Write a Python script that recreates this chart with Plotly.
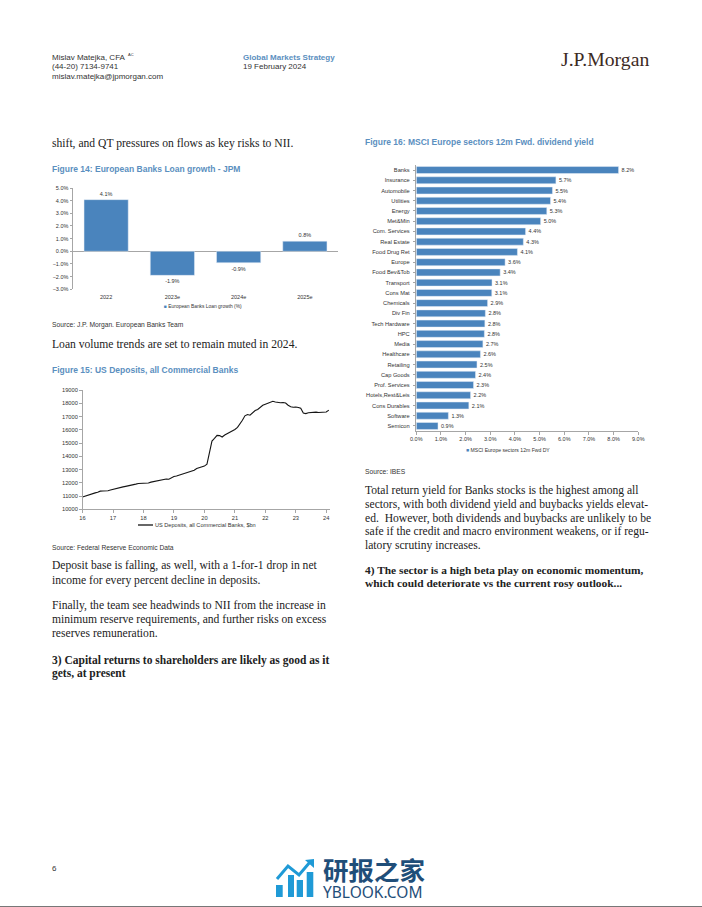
import plotly.graph_objects as go

W, H = 702, 907
BAR = "#4a84bd"
TITLE = "#5b8fc0"
AXIS = "#a6a6a6"
TXT = "#333333"
SANS = "Liberation Sans, Arial"
SERIF = "Liberation Serif, Times New Roman"

# Figure 14
loan_years = ["2022", "2023e", "2024e", "2025e"]
loan_growth = [4.08, -1.9, -0.9, 0.8]

# Figure 15 (monthly)
dep_dates = [f"{y}-{m:02d}-01" for y in range(2016, 2024) for m in range(1, 13)] + ["2024-01-01", "2024-02-01"]
dep_values = [
    10930, 11000, 11070, 11130, 11190, 11240, 11280, 11370, 11380, 11370, 11400, 11450,
    11510, 11560, 11610, 11660, 11690, 11730, 11760, 11790, 11850, 11900, 11950, 11960,
    11980, 11990, 11980, 12050, 12090, 12140, 12180, 12220, 12240, 12280, 12270, 12400,
    12470, 12510, 12570, 12630, 12680, 12760, 12800, 12840, 12950, 13080, 13150, 13200,
    13260, 13400, 14200, 15150, 15350, 15580, 15560, 15450, 15600, 15700, 15830, 15920,
    16020, 16180, 16420, 16720, 17050, 17150, 17100, 17300, 17450, 17530, 17700, 17850,
    17930, 18000, 18040, 18150, 18100, 18060, 18040, 18060, 18020, 17850, 17740, 17700,
    17720, 17680, 17620, 17260, 17220, 17290, 17310, 17340, 17330, 17300, 17320, 17310,
    17340, 17480,
]

# Figure 16
sectors = ["Banks", "Insurance", "Automobile", "Utilities", "Energy", "Met&Min", "Com. Services",
           "Real Estate", "Food Drug Ret", "Europe", "Food Bev&Tob", "Transport", "Cons Mat",
           "Chemicals", "Div Fin", "Tech Hardware", "HPC", "Media", "Healthcare", "Retailing",
           "Cap Goods", "Prof. Services", "Hotels,Rest&Leis", "Cons Durables", "Software", "Semicon"]
div_yield = [8.2, 5.66, 5.52, 5.44, 5.29, 5.04, 4.43, 4.34, 4.1, 3.6, 3.4, 3.07, 3.06,
             2.89, 2.8, 2.78, 2.76, 2.7, 2.6, 2.46, 2.4, 2.32, 2.2, 2.13, 1.3, 0.88]


def dx(a, b):
    return [a / W, b / W]


def dy(top, bottom):
    return [1 - bottom / H, 1 - top / H]


fig = go.Figure()
fig.add_trace(go.Bar(x=loan_years, y=loan_growth, marker_color=BAR, width=0.667, xaxis="x", yaxis="y",
                     texttemplate="%{y:.1f}%", textposition="outside", cliponaxis=False,
                     textfont=dict(size=5.5, color=TXT, family=SANS), showlegend=False))
fig.add_trace(go.Scatter(x=dep_dates, y=dep_values, mode="lines", line=dict(color="#151515", width=1.1),
                         xaxis="x2", yaxis="y2", showlegend=False, cliponaxis=False))
fig.add_trace(go.Bar(x=div_yield, y=sectors, orientation="h", marker_color=BAR, width=0.68, xaxis="x3", yaxis="y3",
                     texttemplate="%{x:.1f}%", textposition="outside", cliponaxis=False,
                     textfont=dict(size=5.5, color=TXT, family=SANS), showlegend=False))

tick = dict(size=5.5, color=TXT, family=SANS)
tick2 = dict(size=5.7, color=TXT, family=SANS)
common = dict(showgrid=False, zeroline=False, showline=True, linecolor=AXIS, linewidth=1,
              ticks="outside", ticklen=2.5, tickcolor=AXIS, tickwidth=1, tickfont=tick)
fig.update_layout(
    width=W, height=H, autosize=False, margin=dict(l=0, r=0, t=0, b=0, autoexpand=False),
    paper_bgcolor="white", plot_bgcolor="white", bargap=0.33,
    xaxis=dict(domain=dx(73, 338), anchor="y", showgrid=False, zeroline=False, showline=False,
               ticks="", tickfont=tick, ticklabelstandoff=3),
    yaxis=dict(domain=dy(188, 289.3), anchor="x", range=[-3, 5], dtick=1, tickformat=".1f", ticksuffix="%",
               showgrid=False, zeroline=True, zerolinecolor=AXIS, zerolinewidth=1, showline=True,
               linecolor=AXIS, ticks="outside", ticklen=2.5, tickcolor=AXIS, tickfont=tick),
    xaxis2=dict(domain=dx(82.5, 330), anchor="y2", type="date", range=["2016-01-01", "2024-02-15"],
                tickvals=[f"{y}-01-01" for y in range(2016, 2025)], tickformat="%y", **{**common, "tickfont": tick2}),
    yaxis2=dict(domain=dy(390, 509.3), anchor="x2", range=[10000, 19000], dtick=1000, tickformat="d",
                **{**common, "tickfont": tick2}),
    xaxis3=dict(domain=dx(416.3, 638.3), anchor="y3", range=[0, 9], dtick=1, tickformat=".1f", ticksuffix="%", **common),
    yaxis3=dict(domain=dy(164.9, 431.1), anchor="x3", autorange="reversed", ticklabelstandoff=2,
                **{**common, "tickfont": dict(size=5.7, color=TXT, family=SANS)}),
)


def text(x, y, s, size, color="#222222", family=SANS, bold=False, anchor="left"):
    fig.add_annotation(xref="paper", yref="paper", x=x / W, y=1 - y / H, text=f"<b>{s}</b>" if bold else s,
                       showarrow=False, xanchor=anchor, yanchor="middle", align="left",
                       font=dict(size=size, color=color, family=family), borderpad=0, borderwidth=0)


# Header and footer
text(52, 57, "Mislav Matejka, CFA", 8, TXT)
text(128, 55, "AC", 4, TXT)
text(52, 66.5, "(44-20) 7134-9741", 8, TXT)
text(52, 76, "mislav.matejka@jpmorgan.com", 8, TXT)
text(243, 57, "Global Markets Strategy", 8, TITLE, bold=True)
text(243, 66.5, "19 February 2024", 8, TXT)
text(561, 59, "J.P.Morgan", 19.7, "#3d2b1f", SERIF)
text(52, 868, "6", 8, TXT)

# Left column
BODY = 11.6
for y, s in [(143, "shift, and QT pressures on flows as key risks to NII."),
             (344, "Loan volume trends are set to remain muted in 2024."),
             (565, "Deposit base is falling, as well, with a 1-for-1 drop in net"),
             (580, "income for every percent decline in deposits."),
             (605, "Finally, the team see headwinds to NII from the increase in"),
             (619, "minimum reserve requirements, and further risks on excess"),
             (633, "reserves remuneration.")]:
    text(52, y, s, BODY, "#222222", SERIF)
for y, s in [(660, "3) Capital returns to shareholders are likely as good as it"), (673, "gets, at present")]:
    text(52, y, s, 11.5, "#222222", SERIF, bold=True)

# Right column
for y, s in [(490, "Total return yield for Banks stocks is the highest among all"),
             (504, "sectors, with both dividend yield and buybacks yields elevat-"),
             (518, "ed.  However, both dividends and buybacks are unlikely to be"),
             (531, "safe if the credit and macro environment weakens, or if regu-"),
             (545, "latory scrutiny increases.")]:
    text(365, y, s, BODY, "#222222", SERIF)
for y, s in [(570, "4) The sector is a high beta play on economic momentum,"),
             (583, "which could deteriorate vs the current rosy outlook...")]:
    text(365, y, s, 11.4, "#222222", SERIF, bold=True)

# Figure titles and sources
text(52, 169, "Figure 14: European Banks Loan growth - JPM", 8.5, TITLE, bold=True)
text(52, 370, "Figure 15: US Deposits, all Commercial Banks", 8.5, TITLE, bold=True)
text(365, 142, "Figure 16: MSCI Europe sectors 12m Fwd. dividend yield", 8.5, TITLE, bold=True)
text(52, 325, "Source: J.P. Morgan. European Banks Team", 6.7, TXT)
text(52, 547, "Source: Federal Reserve Economic Data", 6.7, TXT)
text(365, 471, "Source: IBES", 6.7, TXT)

# Legends
text(164, 306.5, f'<span style="color:{BAR}">■</span> European Banks Loan growth (%)', 4.9, TXT)
text(466, 450, f'<span style="color:{BAR}">■</span> MSCI Europe sectors 12m Fwd DY', 5.1, TXT)
text(155, 525, "US Deposits, all Commercial Banks, $bn", 5.6, TXT)
fig.add_shape(type="line", xref="paper", yref="paper", x0=138 / W, x1=153 / W, y0=1 - 525 / H, y1=1 - 525 / H,
              line=dict(color="#151515", width=1.3))

# Watermark
LOGO = "#1f9ad6"
for x0, x1, y0 in [(276, 282.7, 885), (288, 294, 875), (296.7, 303, 880), (306.7, 313.3, 872)]:
    fig.add_shape(type="rect", xref="paper", yref="paper", x0=x0 / W, x1=x1 / W, y0=1 - 897 / H, y1=1 - y0 / H,
                  fillcolor=LOGO, line_width=0)
pts = [(277, 879), (288, 866), (299, 875), (310, 862)]
path = "M " + " L ".join(f"{a / W},{1 - b / H}" for a, b in pts)
fig.add_shape(type="path", xref="paper", yref="paper", path=path, line=dict(color=LOGO, width=3))
fig.add_shape(type="path", xref="paper", yref="paper",
              path=f"M {305 / W},{1 - 860 / H} L {314 / W},{1 - 859 / H} L {314 / W},{1 - 868 / H} Z",
              fillcolor=LOGO, line_width=0)
text(323, 868.5, "研报之家", 25.5, "#1f4e79", "Noto Sans CJK SC", bold=True)
text(323, 891.5, "YBLOOK.COM", 15.5, "#1f4e79", "Noto Sans")
fig.add_shape(type="line", xref="paper", yref="paper", x0=0, x1=1, y0=1 - 906.5 / H, y1=1 - 906.5 / H,
              line=dict(color="#777777", width=1))

fig.write_html("out.html", config={"displayModeBar": False},
               post_script="document.documentElement.style.margin='0';document.body.style.margin='0';document.body.style.overflow='hidden';")
